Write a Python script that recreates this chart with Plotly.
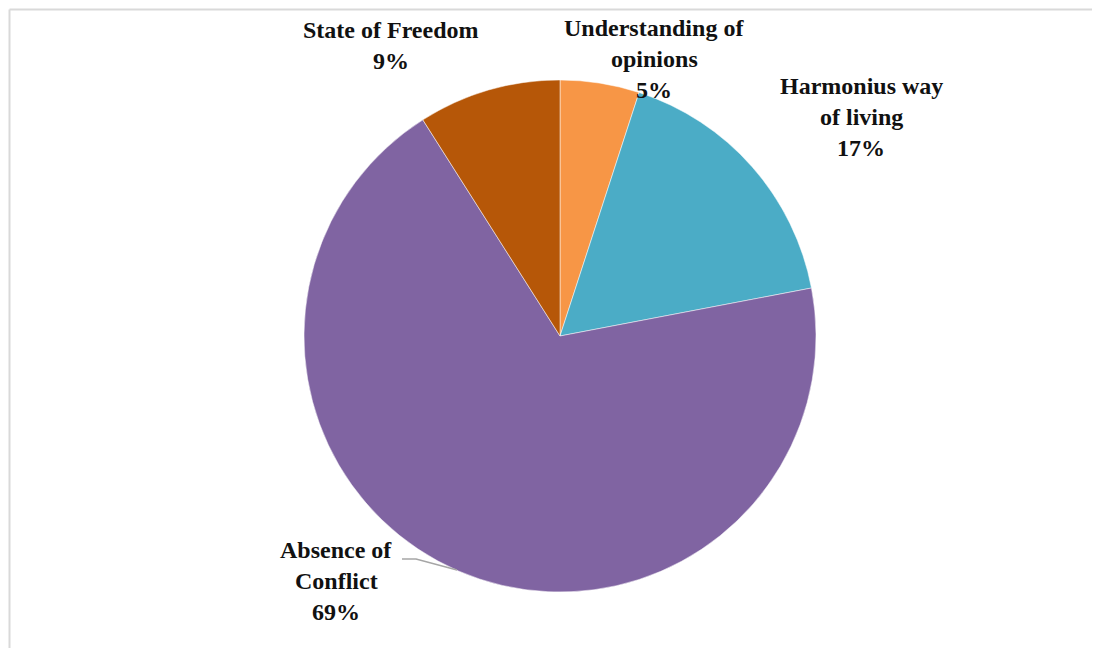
import plotly.graph_objects as go

categories = ["Understanding of opinions", "Harmonius way of living", "Absence of Conflict", "State of Freedom"]
values = [5, 17, 69, 9]
label_lines = [["Understanding of", "opinions"], ["Harmonius way", "of living"], ["Absence of", "Conflict"], ["State of Freedom"]]
colors = ["#F79646", "#4BACC6", "#8064A2", "#B65708"]

# page is offset by the default 8px body margin
OFF = 8
W, H = 1100 - 2 * OFF, 656 - 2 * OFF


def px(x):
    return (x - OFF) / W


def py(y):
    return 1 - (y - OFF) / H


cx, cy, r = 560, 336, 256

fig = go.Figure(go.Pie(
    labels=categories,
    values=values,
    sort=False,
    direction="clockwise",
    rotation=0,
    marker=dict(colors=colors, line=dict(color="white", width=0.5)),
    textinfo="none",
    hoverinfo="label+percent",
    showlegend=False,
    domain=dict(x=[px(cx - r), px(cx + r)], y=[py(cy + r), py(cy - r)]),
))

# label block: (centre x, y of first line) in page pixels
label_pos = [(654, 28), (861, 86), (336, 550), (391, 30)]
line_gap = 31
total = sum(values)
annotations = []
for lines, v, (lx, ly) in zip(label_lines, values, label_pos):
    pct = round(100 * v / total)
    for i, t in enumerate(lines + [f"{pct}%"]):
        annotations.append(dict(
            x=px(lx), y=py(ly + i * line_gap), xref="paper", yref="paper",
            text=f"<b>{t}</b>", showarrow=False,
            xanchor="center", yanchor="middle", align="center",
            font=dict(family="Liberation Serif", size=24, color="#111111"),
        ))

shapes = [
    # chart border (top and left visible)
    dict(type="line", xref="paper", yref="paper", x0=px(9.5), x1=1.02, y0=py(9.5), y1=py(9.5),
         line=dict(color="#D9D9D9", width=2)),
    dict(type="line", xref="paper", yref="paper", x0=px(9.5), x1=px(9.5), y0=-0.02, y1=py(9.5),
         line=dict(color="#D9D9D9", width=2)),
    # leader line for Absence of Conflict
    dict(type="path", xref="paper", yref="paper",
         path=f"M {px(402)},{py(559)} L {px(416)},{py(559)} L {px(457)},{py(570)}",
         line=dict(color="#A6A6A6", width=1.5)),
]

fig.update_layout(
    width=W, height=H,
    margin=dict(l=0, r=0, t=0, b=0),
    paper_bgcolor="white",
    plot_bgcolor="white",
    annotations=annotations,
    shapes=shapes,
)

fig.write_html("out.html")
